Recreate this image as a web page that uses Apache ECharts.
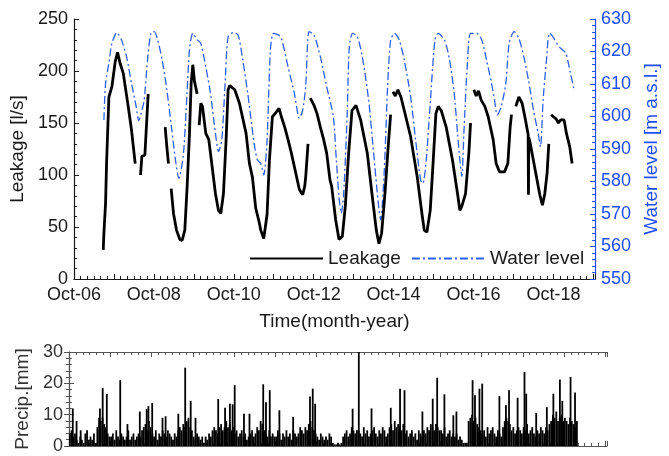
<!DOCTYPE html>
<html>
<head>
<meta charset="utf-8">
<script src="https://cdn.jsdelivr.net/npm/echarts@6/dist/echarts.min.js"></script>
<style>
  html, body { margin: 0; padding: 0; background: #fff; }
  #chart { width: 669px; height: 456px; }
</style>
</head>
<body>
<div id="chart"></div>
<script>
// time is counted in months since Oct-2006
var xMax = 156.5;

// leakage [l/s], null = gap in record
var leakT = [8.8, 9.0, 9.5, 9.8, 10.5, 11.4, 12.4, 13.1, 13.9, 14.8, 16.3, 17.3, 18.4, 19.2,
  20.0, 20.4, 21.3, 22.3, 24.8,
  27.4, 27.9, 28.4, 28.8,
  29.2, 29.9, 30.8, 31.8, 32.5, 33.3, 34.0, 34.7, 35.2, 35.7, 36.2, 37.0, 37.3,
  37.6, 38.1, 38.6, 39.6, 40.5, 41.5, 42.5, 43.4, 44.1, 44.9, 45.7, 46.3, 46.8, 48.3, 49.7, 51.7, 52.7, 53.6, 54.6, 55.6,
  56.1, 57.0, 58.0, 58.7, 59.6, 60.4, 61.6, 62.3, 63.3, 64.3, 65.3, 66.2, 67.7, 68.7, 69.3, 69.6, 70.3, 70.6,
  71.0, 72.1, 73.0, 74.0, 75.0, 75.9, 76.9, 77.4, 78.6, 79.6, 80.6, 81.5, 82.5, 83.5, 84.7, 86.1, 88.1, 89.5, 90.8,
  91.6, 92.4, 93.4, 94.3, 95.1, 95.5,
  95.8, 96.5, 97.3, 98.2, 99.2, 101.1, 103.1, 104.5, 105.2, 106.0, 107.0, 107.9, 108.7, 109.4, 110.3, 111.8, 113.7,
  115.2, 115.9, 116.5, 117.6, 118.6, 119.1, 119.6,
  120.1, 120.8, 121.5, 122.3, 123.4, 124.4, 125.9, 126.8, 127.8, 129.3, 130.3, 131.0, 131.4, 132.0,
  132.7, 133.6, 134.6, 135.6, 136.4, 136.5, 136.6, 137.0, 138.5, 139.9, 140.7, 141.4, 142.1, 142.6, 143.0,
  143.3, 144.0, 144.8, 145.5, 146.2, 147.2, 147.9, 148.9, 149.6];
var leakV = [28, 44, 73, 111, 175, 185, 209, 218, 207, 198, 166, 143, 111, null,
  100, 118, 119, 178, null,
  146, 127, 111, null,
  87, 63, 47, 38, 37, 47, 89, 140, 188, 206, 190, 178, null,
  148, 169, 166, 140, 134, 108, 82, 66, 63, 82, 134, 182, 186, 182, 169, 140, 111, 98, 68, 55,
  47, 39, 62, 114, 156, 159, 164, 156, 146, 134, 121, 108, 86, 81, 89, 98, 130, null,
  174, 167, 159, 146, 134, 121, 95, 89, 57, 38, 41, 70, 121, 162, 167, 153, 121, 82, 47,
  34, 44, 82, 124, 158, null,
  180, 176, 182, 175, 162, 137, 98, 63, 47, 45, 66, 114, 159, 166, 162, 146, 114,
  82, 66, 70, 82, 121, 150, null,
  182, 176, 181, 172, 166, 156, 134, 111, 103, 103, 111, 146, 158, null,
  166, 175, 169, 153, 139, 81, 136, 131, 105, 81, 71, 82, 102, 130, null,
  158, 156, 154, 150, 153, 153, 140, 127, 111];

// reservoir water level [m a.s.l.]
var levelT = [9.0, 9.5, 10.5, 11.4, 12.9, 14.3, 15.8, 17.3, 18.7, 19.5,
  20.2, 21.1, 22.1, 23.1, 24.1, 25.0, 26.5, 27.9, 29.4, 30.5,
  31.5, 32.8, 33.7, 34.7, 35.7, 37.1, 38.1, 39.6, 41.0, 42.5,
  43.4, 44.4, 45.4, 46.3, 47.8, 49.3, 50.7, 52.2, 54.1, 55.1,
  56.1, 57.0, 58.0, 59.0, 59.9, 61.4, 62.3, 64.3, 66.2, 67.7,
  68.7, 69.6, 70.6, 72.1, 74.0, 75.9, 77.9, 78.8, 79.6, 80.3,
  81.0, 82.0, 82.7, 83.7, 85.1, 86.6, 88.5, 90.0, 91.4, 92.1,
  93.2, 94.2, 95.1, 96.3, 97.7, 99.2, 101.1, 102.6, 104.1, 104.8,
  105.8, 107.0, 108.4, 109.4, 111.3, 112.8, 114.2, 115.2, 115.9, 116.5,
  117.1, 118.1, 119.1, 121.0, 122.5, 123.9, 125.4, 126.3, 127.1, 128.3,
  129.7, 130.7, 132.2, 133.6, 135.1, 136.5, 138.0, 139.4, 140.1, 140.9,
  141.9, 142.8, 143.8, 145.7, 147.7, 149.1, 150.1];
var levelV = [598.9, 610.2, 616.4, 622.5, 625.8, 623.5, 618.4, 610.2, 603, 598.7,
  601, 605.1, 617.4, 625.6, 626.1, 624.1, 617.4, 608.2, 595.8, 586.6,
  581, 587.6, 602, 620.5, 625.6, 623.5, 622.5, 615.3, 607.1, 594.8,
  589.2, 592.8, 610.2, 624.6, 625.8, 625.1, 617.4, 607.1, 591.8, 586.6,
  585.6, 582, 592.8, 620.5, 625.6, 625.1, 624.1, 615.3, 607.1, 599.4,
  602, 609.2, 626.1, 625.1, 618.4, 609.2, 599.9, 586.6, 575.3, 570.2,
  576.4, 598.9, 621.5, 625.6, 624.6, 618.4, 605.1, 588.7, 573.3, 568.2,
  583.5, 609.2, 623.5, 625.6, 623.5, 617.4, 606.1, 592.8, 580.5, 579.4,
  586.6, 604, 623.5, 625.6, 623.5, 617.4, 607.1, 594.8, 586.6, 581.5,
  594.8, 615.3, 625.6, 625.6, 623.5, 617.4, 610.2, 605.1, 600.5, 603,
  610.2, 622.5, 626.1, 624.1, 618.4, 611.2, 602, 594.8, 590.7, 605.1,
  617.4, 625.6, 624.6, 621.5, 619.5, 613.3, 608.7];

// precipitation [mm], half-month background record starting Oct-2006
var precipStart = 0.25;
var precipStep = 0.5;
var precipBase = [
  4, 5, 3, 4, 2, 1, 3, 2, 1, 4, 5, 2, 3, 2, 4, 1, 6, 9, 8, 9, 7, 6, 4, 3,
  3, 4, 2, 5, 3, 2, 4, 3, 2, 3, 5, 2, 3, 4, 2, 3, 4, 3, 5, 6, 7, 5, 8, 6,
  4, 3, 5, 2, 4, 3, 5, 4, 3, 5, 4, 3, 2, 4, 3, 5, 6, 5, 7, 6, 8, 9, 6, 5,
  3, 2, 4, 3, 2, 3, 1, 3, 2, 4, 3, 5, 6, 5, 4, 6, 7, 5, 6, 8, 6, 7, 5, 6,
  4, 5, 3, 4, 5, 3, 4, 2, 3, 4, 5, 3, 4, 6, 5, 8, 7, 5, 4, 3, 5, 3, 4, 3,
  3, 5, 4, 2, 4, 3, 5, 3, 4, 2, 5, 4, 3, 4, 6, 5, 4, 6, 5, 7, 8, 6, 5, 4,
  3, 2, 4, 3, 2, 3, 2, 4, 3, 1, 0.5, 0.5, 1, 0.5, 1, 3, 4, 5, 3, 4, 6, 5, 4, 5,
  5, 4, 3, 6, 4, 5, 3, 4, 5, 6, 4, 3, 5, 4, 6, 5, 3, 4, 6, 7, 5, 8, 6, 7,
  6, 5, 7, 4, 5, 3, 4, 5, 3, 4, 2, 5, 4, 3, 5, 4, 6, 5, 7, 6, 5, 7, 6, 5,
  5, 4, 6, 3, 4, 5, 3, 4, 3, 4, 2, 3, 2, 1, 1, 1, 8, 9, 10, 8, 9, 7, 6, 5,
  4, 5, 3, 6, 4, 5, 6, 4, 3, 5, 4, 3, 6, 8, 9, 8, 7, 5, 6, 4, 5, 6, 5, 4,
  6, 5, 7, 4, 5, 6, 4, 3, 5, 4, 6, 5, 4, 6, 5, 7, 8, 10, 9, 11, 8, 9, 10, 8,
  9, 8, 7, 9, 8, 7, 6, 8];
// individual storm days
var precipPeakT = [1.1, 2.2, 3.4, 9.0, 9.8, 11.0, 14.9, 17.0, 20.6, 22.6,
  23.1, 24.2, 27.2, 28.1, 31.8, 33.8, 35.4, 36.8, 43.4, 45.4,
  46.8, 47.6, 48.2, 50.9, 52.5, 56.5, 57.3, 58.4, 61.2, 65.2,
  70.1, 70.9, 71.6, 82.5, 84.3, 88.0, 93.6, 96.3, 97.6, 102.8,
  105.8, 107.1, 109.2, 111.8, 112.7, 117.4, 118.1, 119.4, 120.2, 125.2,
  127.1, 128.0, 130.5, 132.5, 133.0, 135.9, 139.0, 140.9, 142.8, 143.5,
  145.9, 147.2];
var precipPeakV = [12, 8, 5, 12, 18.5, 16.6, 21, 7, 11, 11.8,
  12.7, 13.7, 9, 9.5, 10.3, 25, 14.4, 9, 15, 12.2,
  13.5, 13.3, 19.4, 10.3, 10.3, 19.7, 14, 17.8, 11.4, 9.3,
  15.8, 18.3, 13.5, 11.9, 30, 12, 12.2, 18.3, 17.8, 11,
  15.1, 21.8, 16.5, 9.8, 11, 21, 16.2, 18.3, 19.9, 15.9,
  13, 17.8, 15.4, 23.6, 16.7, 10.5, 12.4, 16.7, 21.2, 14.4,
  22, 17.1];

var blue = '#1f4df2';
var ink = '#1a1a1a';
var font = 'Liberation Sans';

function pairs(t, v) {
  return t.map(function (x, i) { return [x, v[i]]; });
}
var precipData = precipBase.map(function (v, i) { return [precipStart + i * precipStep, v]; })
  .concat(pairs(precipPeakT, precipPeakV));

function octLabel(v) {
  if (v % 24 !== 0) return '';
  var yy = 6 + v / 12;
  return 'Oct-' + (yy < 10 ? '0' : '') + yy;
}

function timeAxis(grid, pos, labels, color) {
  return {
    type: 'value', gridIndex: grid, position: pos, min: 0, max: xMax, interval: 12,
    axisLine: { show: true, onZero: false, lineStyle: { color: color, width: 1.2 } },
    axisTick: { show: true, inside: true, length: 5, lineStyle: { color: color } },
    minorTick: { show: true, splitNumber: 6, length: 3, lineStyle: { color: color } },
    splitLine: { show: false },
    axisLabel: { show: labels, formatter: octLabel, fontSize: 18, color: ink, fontFamily: font, margin: 7 }
  };
}

var chart = echarts.init(document.getElementById('chart'));
var option = {
  animation: false,
  textStyle: { fontFamily: font },
  grid: [
    { left: 69, top: 19, width: 537, height: 260 },
    { left: 69, top: 352, width: 538, height: 94 }
  ],
  legend: {
    data: ['Leakage', 'Water level'],
    left: 249, top: 249, padding: 0,
    itemWidth: 73, itemHeight: 14, itemGap: 10,
    itemStyle: { opacity: 0 },
    textStyle: { fontSize: 19, color: ink, fontFamily: font }
  },
  xAxis: [
    Object.assign(timeAxis(0, 'bottom', true, ink), {
      name: 'Time(month-year)', nameLocation: 'middle', nameGap: 33,
      nameTextStyle: { fontSize: 19, color: ink, fontFamily: font }
    }),
    timeAxis(1, 'bottom', false, '#555'),
    timeAxis(1, 'top', false, '#555')
  ],
  yAxis: [
    {
      type: 'value', gridIndex: 0, position: 'left', min: 0, max: 250, interval: 50,
      name: 'Leakage [l/s]', nameLocation: 'middle', nameRotate: 90, nameGap: 40,
      nameTextStyle: { fontSize: 19, color: ink, fontFamily: font },
      axisLine: { show: true, lineStyle: { color: ink, width: 1.2 } },
      axisTick: { inside: true, length: 5, lineStyle: { color: ink } },
      minorTick: { show: true, splitNumber: 5, length: 3, lineStyle: { color: ink } },
      splitLine: { show: false },
      axisLabel: { fontSize: 18, color: ink, fontFamily: font, margin: 6 }
    },
    {
      type: 'value', gridIndex: 0, position: 'right', min: 550, max: 630, interval: 10,
      name: 'Water level [m a.s.l.]', nameLocation: 'middle', nameRotate: 90, nameGap: 42,
      nameTextStyle: { fontSize: 19, color: blue, fontFamily: font },
      axisLine: { show: true, lineStyle: { color: blue, width: 1.2 } },
      axisTick: { inside: true, length: 5, lineStyle: { color: blue } },
      minorTick: { show: true, splitNumber: 5, length: 3, lineStyle: { color: blue } },
      splitLine: { show: false },
      axisLabel: { fontSize: 18, color: blue, fontFamily: font, margin: 6 }
    },
    {
      type: 'value', gridIndex: 1, position: 'left', min: 0, max: 30, interval: 10,
      name: 'Precip.[mm]', nameLocation: 'middle', nameRotate: 90, nameGap: 29,
      nameTextStyle: { fontSize: 19, color: '#333', fontFamily: font },
      axisLine: { show: true, lineStyle: { color: '#555', width: 1.2 } },
      axisTick: { inside: true, length: 5, lineStyle: { color: '#555' } },
      minorTick: { show: true, splitNumber: 5, length: 3, lineStyle: { color: '#555' } },
      splitLine: { show: false },
      axisLabel: { fontSize: 18, color: '#333', fontFamily: font, margin: 6 }
    },
    {
      type: 'value', gridIndex: 1, position: 'right', min: 0, max: 30, interval: 10,
      axisLine: { show: true, lineStyle: { color: '#555', width: 1.2 } },
      axisTick: { inside: true, length: 5, lineStyle: { color: '#555' } },
      minorTick: { show: true, splitNumber: 5, length: 3, lineStyle: { color: '#555' } },
      splitLine: { show: false },
      axisLabel: { show: false }
    }
  ],
  series: [
    {
      name: 'Leakage', type: 'line', xAxisIndex: 0, yAxisIndex: 0,
      data: pairs(leakT, leakV), symbol: 'none', connectNulls: false,
      lineStyle: { color: '#000', width: 2.8 }, itemStyle: { color: '#000' }, z: 3
    },
    {
      name: 'Water level', type: 'line', xAxisIndex: 0, yAxisIndex: 1,
      data: pairs(levelT, levelV), symbol: 'none', smooth: 0.25,
      lineStyle: { color: '#2e5fe6', width: 1.3, type: [8, 3, 2, 3] }, itemStyle: { color: '#2e5fe6' }, z: 2
    },
    {
      name: 'Precip', type: 'bar', xAxisIndex: 1, yAxisIndex: 2,
      data: precipData, barWidth: 1.8, itemStyle: { color: '#000' }
    }
  ]
};
chart.setOption(option);
</script>
</body>
</html>
